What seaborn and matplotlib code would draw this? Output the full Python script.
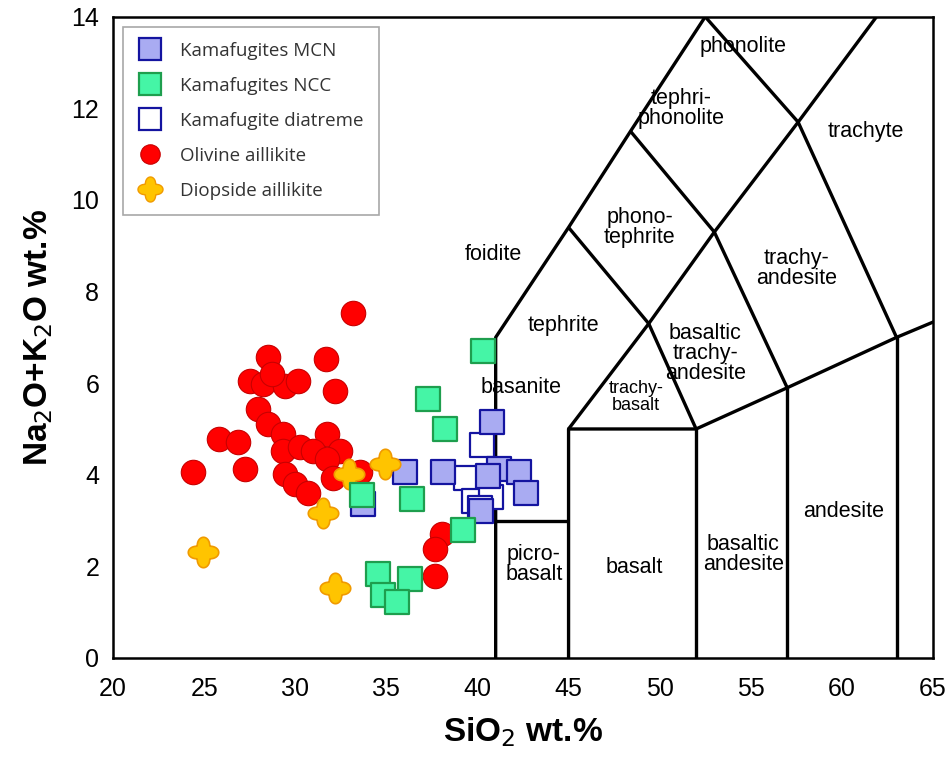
import numpy as np
import pandas as pd
import matplotlib
matplotlib.use("Agg")
import matplotlib.pyplot as plt
from matplotlib.path import Path
from matplotlib.lines import Line2D
import seaborn as sns

# ---- sample compositions (SiO2 wt.%, Na2O+K2O wt.%) ----
mcn_sio2 = [33.74, 36.0, 38.1, 40.8, 41.2, 42.3, 42.65, 40.6, 40.2]
mcn_alk = [3.36, 4.05, 4.05, 5.16, 4.13, 4.05, 3.61, 3.98, 3.21]

ncc_sio2 = [40.31, 37.29, 38.22, 33.67, 36.41, 39.21, 34.54, 36.30, 34.82, 35.59]
ncc_alk = [6.71, 5.66, 5.00, 3.55, 3.47, 2.79, 1.84, 1.73, 1.38, 1.23]

diatreme_sio2 = [40.25, 39.35, 39.8, 40.75, 40.15]
diatreme_alk = [4.65, 3.93, 3.42, 3.52, 3.28]

olivine_sio2 = [33.16, 28.52, 31.69, 27.52, 28.25, 29.44, 30.17, 32.18, 28.71, 27.98,
                28.52, 29.35, 25.83, 26.88, 31.73, 29.35, 30.26, 31.00, 32.46, 31.73,
                24.37, 27.24, 29.44, 32.09, 33.56, 29.99, 30.72, 38.04, 37.67, 37.67]
olivine_alk = [7.53, 6.58, 6.52, 6.04, 5.99, 5.94, 6.04, 5.82, 6.21, 5.44,
               5.11, 4.89, 4.78, 4.71, 4.89, 4.53, 4.60, 4.53, 4.53, 4.34,
               4.05, 4.13, 4.02, 3.94, 4.07, 3.80, 3.60, 2.70, 2.37, 1.78]

diopside_sio2 = [32.97, 34.93, 31.54, 24.92, 32.18]
diopside_alk = [4.02, 4.24, 3.16, 2.32, 1.53]

# ---- TAS field boundaries (Le Bas et al., 1986) ----
tas_lines = [
    [(41, 0), (41, 7), (45, 9.4), (48.4, 11.5), (52.5, 14)],
    [(41, 3), (45, 3)],
    [(45, 0), (45, 5), (52, 5), (57, 5.9), (63, 7), (69, 8)],
    [(52, 0), (52, 5)],
    [(57, 0), (57, 5.9)],
    [(63, 0), (63, 7)],
    [(45, 5), (49.4, 7.3), (53, 9.3), (57.6, 11.7), (61.9, 14)],
    [(45, 9.4), (49.4, 7.3), (52, 5)],
    [(48.4, 11.5), (53, 9.3), (57, 5.9)],
    [(52.5, 14), (57.6, 11.7), (63, 7)],
]

field_names = ["phonolite", "tephri-\nphonolite", "trachyte", "phono-\ntephrite", "foidite",
               "trachy-\nandesite", "tephrite", "basaltic\ntrachy-\nandesite", "basanite",
               "trachy-\nbasalt", "picro-\nbasalt", "basalt", "basaltic\nandesite", "andesite"]
field_x = [54.6, 51.2, 61.3, 48.9, 40.9, 57.5, 44.7, 52.5, 42.4, 48.7, 43.1, 48.6, 54.6, 60.1]
field_y = [13.35, 12.0, 11.5, 9.4, 8.8, 8.5, 7.25, 6.65, 5.9, 5.7, 2.04, 1.97, 2.26, 3.2]
field_size = [15.5, 15.5, 15.5, 15.5, 15.5, 15.5, 15.5, 15.5, 15.5, 13, 15.5, 15.5, 15.5, 15.5]

sns.set_theme(style="white")
plt.rcParams["font.family"] = ["Liberation Sans", "DejaVu Sans"]
plt.rcParams["text.color"] = "black"
plt.rcParams["axes.labelcolor"] = "black"

# rounded four-armed cross marker
theta = np.linspace(0, 2 * np.pi, 241)
r = 0.6 + 0.4 * np.abs(np.cos(2 * theta)) ** 1.3
cross_verts = np.column_stack([r * np.cos(theta), r * np.sin(theta)])
cross_marker = Path(cross_verts, closed=True)

fig = plt.figure(figsize=(9.53, 7.62), dpi=100)
ax = fig.add_axes([0.1186, 0.1365, 0.8604, 0.8415])

for line in tas_lines:
    xs, ys = zip(*line)
    ax.plot(xs, ys, color="black", lw=2.4, solid_capstyle="butt", zorder=1)

for name, fx, fy, fs in zip(field_names, field_x, field_y, field_size):
    ax.text(fx, fy, name, ha="center", va="center", fontsize=fs, linespacing=0.95,
            color="black", zorder=2)

groups = [
    ("Kamafugite diatreme", diatreme_sio2, diatreme_alk, "s", "white", "#1414A0", 1.6, 300),
    ("Kamafugites MCN", mcn_sio2, mcn_alk, "s", "#A9ABF2", "#1414A0", 1.6, 300),
    ("Olivine aillikite", olivine_sio2, olivine_alk, "o", "#FF0000", "#C80000", 0.8, 310),
    ("Diopside aillikite", diopside_sio2, diopside_alk, cross_marker, "#FFC400", "#F09A00", 1.2, 480),
    ("Kamafugites NCC", ncc_sio2, ncc_alk, "s", "#45F5A6", "#1E9E4E", 1.6, 300),
]

legend_size = {"s": 15.5, "o": 14}
handles = {}
for i, (label, xs, ys, mk, fc, ec, lw, size) in enumerate(groups):
    df = pd.DataFrame({"SiO2": xs, "alk": ys})
    sns.scatterplot(data=df, x="SiO2", y="alk", marker=mk, s=size, color=fc,
                    edgecolor=ec, linewidth=lw, ax=ax, zorder=3 + i, legend=False)
    ms = legend_size.get(mk, 18) if isinstance(mk, str) else 18
    handles[label] = Line2D([], [], linestyle="none", marker=mk, markersize=ms,
                            markerfacecolor=fc, markeredgecolor=ec,
                            markeredgewidth=lw if isinstance(mk, str) else 1.0)

order = ["Kamafugites MCN", "Kamafugites NCC", "Kamafugite diatreme",
         "Olivine aillikite", "Diopside aillikite"]
leg = ax.legend([handles[k] for k in order], order, loc="upper left",
                bbox_to_anchor=(0.012, 0.984), frameon=True, fancybox=False,
                edgecolor="#A8A8A8", framealpha=1, borderpad=0.8, labelspacing=0.9,
                handletextpad=0.95, handlelength=1.3, borderaxespad=0,
                prop={"family": "Open Sans", "size": 13.5})
leg.get_frame().set_linewidth(1.2)
leg.set_zorder(10)
for t in leg.get_texts():
    t.set_color("#333333")

ax.set_xlim(20, 65)
ax.set_ylim(0, 14)
ax.set_xticks(range(20, 66, 5))
ax.set_yticks(range(0, 15, 2))
ax.tick_params(axis="both", direction="in", labelsize=18, width=1.8, length=16,
               colors="black", pad=10)
ax.tick_params(axis="x", pad=14)

# tick marks of differing length along the frame
x_len = {20: 0, 25: 16, 30: 26, 35: 16, 40: 16, 45: 16, 50: 16, 55: 16, 60: 26, 65: 0}
for tick, val in zip(ax.xaxis.get_major_ticks(), range(20, 66, 5)):
    tick.tick1line.set_markersize(x_len[val])
y_len = {0: 0, 2: 15, 4: 15, 6: 26, 8: 15, 10: 15, 12: 0, 14: 0}
for tick, val in zip(ax.yaxis.get_major_ticks(), range(0, 15, 2)):
    tick.tick1line.set_markersize(y_len[val])

for sp in ax.spines.values():
    sp.set_color("black")
    sp.set_linewidth(1.8)

ax.set_xlabel("SiO$_2$ wt.%", fontsize=24, fontweight="bold", labelpad=10, color="black")
ax.set_ylabel("Na$_2$O+K$_2$O wt.%", fontsize=24, fontweight="bold", labelpad=12, color="black")

fig.savefig("out.png", dpi=100)
